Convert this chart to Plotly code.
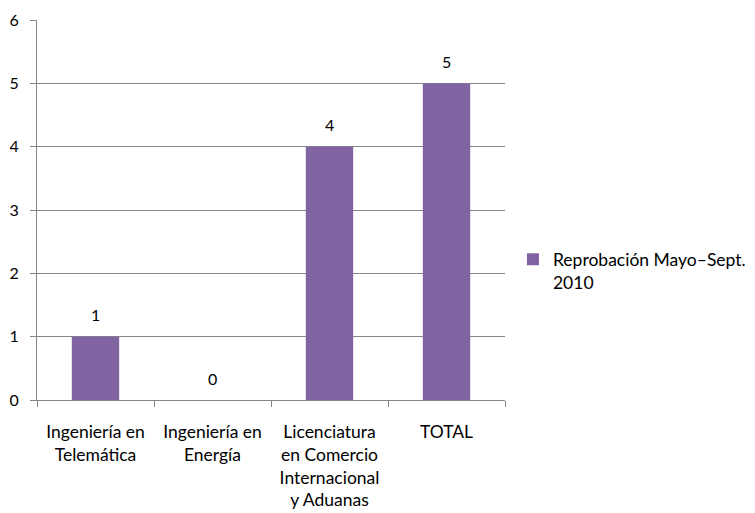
import plotly.graph_objects as go

categories = ["Ingeniería en<br>Telemática", "Ingeniería en<br>Energía",
              "Licenciatura<br>en Comercio<br>Internacional<br>y Aduanas", "TOTAL"]
values = [1, 0, 4, 5]
series_name = "Reprobación Mayo–Sept.<br>2010"
y_ticks = [0, 1, 2, 3, 4, 5, 6]

FONT = "Lato, 'Open Sans', sans-serif"
GRID = "#868686"

fig = go.Figure()
fig.add_trace(go.Bar(
    x=categories, y=values, name=series_name,
    marker=dict(color="#8064A2", line=dict(width=0)),
    width=0.405,
    cliponaxis=False, showlegend=True,
))

for c, v in zip(categories, values):
    fig.add_annotation(x=c, y=v, text=str(v), showarrow=False,
                       yanchor="middle", yshift=22,
                       font=dict(size=16, color="#000000", family=FONT))

fig.update_layout(
    width=747, height=505,
    margin=dict(l=29, r=250, t=12, b=113, autoexpand=False),
    paper_bgcolor="white", plot_bgcolor="white",
    font=dict(family=FONT, size=17, color="#000000"),
    showlegend=True,
    legend=dict(x=1.017, y=0.34, xanchor="left", yanchor="middle",
                font=dict(size=17.5), itemwidth=30, valign="top",
                bgcolor="rgba(0,0,0,0)"),
)
fig.update_yaxes(
    range=[0, 6], tickvals=y_ticks, showgrid=True, gridcolor=GRID, gridwidth=1,
    showline=True, linecolor=GRID, linewidth=1, ticks="outside", ticklen=6,
    tickcolor=GRID, zeroline=False, tickfont=dict(size=16), automargin=False,
    ticklabelstandoff=8,
)
fig.update_xaxes(
    showline=True, linecolor=GRID, linewidth=1, ticks="outside", ticklen=6,
    tickcolor=GRID, tickson="boundaries", tickfont=dict(size=17.5), tickangle=0,
    automargin=False, ticklabelstandoff=16,
)

fig.write_html("out.html")
